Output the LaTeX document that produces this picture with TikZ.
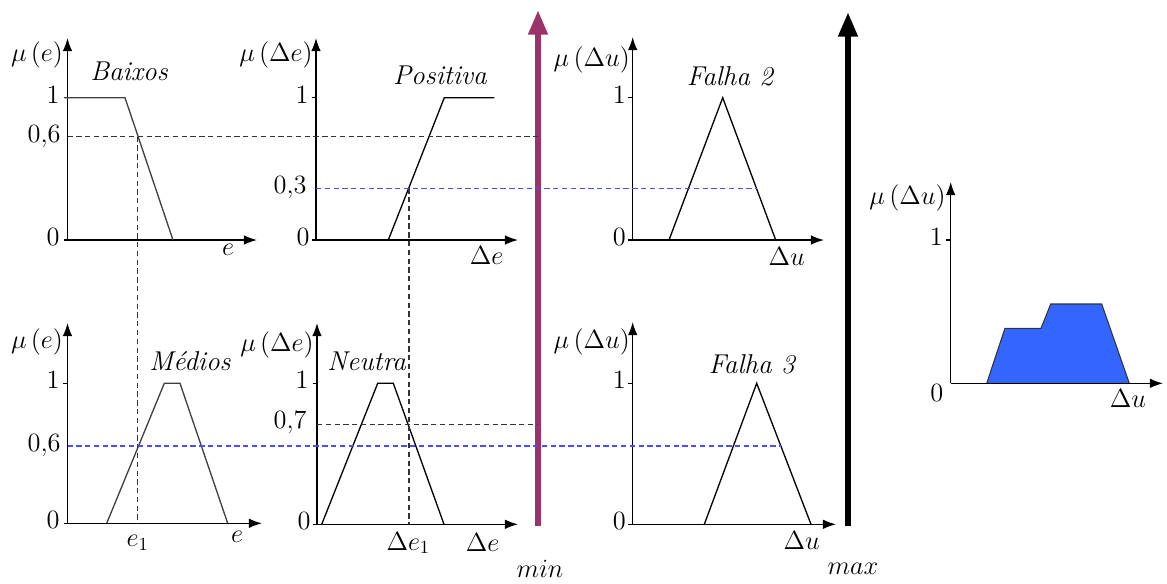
\RequirePackage{fix-cm}
\documentclass[tikz,border=0pt]{standalone}
\usetikzlibrary{arrows.meta}
\definecolor{minc}{RGB}{155,50,105}
\definecolor{fillc}{RGB}{51,102,255}
\begin{document}
\begin{tikzpicture}[x=0.02cm,y=-0.02cm,
  axis/.style={line width=0.75pt,-{Latex[length=7.5pt,width=5.5pt]}},
  tick/.style={line width=0.6pt},
  mf/.style={line width=0.75pt,black!75},
  guide/.style={line width=0.6pt,dash pattern=on 3pt off 2pt,black!80},
  bguide/.style={line width=0.6pt,dash pattern=on 3pt off 2pt,blue!70},
  lab/.style={font=\fontsize{15}{17}\selectfont,inner sep=0pt},
  num/.style={lab,anchor=base east},
  mfname/.style={font=\fontsize{15.5}{18}\selectfont\itshape,inner sep=0pt},
  bigarrow/.style={line width=3.4pt,-{Triangle[length=14pt,width=10.5pt]}},
  ]
\useasboundingbox (0,0) rectangle (1167,583);

% ---------- Panel 1 top: Baixos ----------
\coordinate (a1o) at (67.5,240);
\coordinate (a1x) at (257,240);
\coordinate (a1y) at (67.5,38);
\draw[axis] (64,240) -- (a1x);
\draw[axis] (a1o) -- (a1y);
\node[lab] (a1mu) at (37,55) {$\mu\,(e)$};
\node[num] (a1n1) at (60,103) {$1$};
\node[num] (a1n6) at (61,142) {$0{,}6$};
\node[num] (a1n0) at (60,245) {$0$};
\node[lab] (a1e) at (228,250) {$e$};
\node[mfname] (baixos) at (129,71) {Baixos};
\draw[mf] (64,97.7) -- (125,97.7) -- (173,240);
\coordinate (b06) at (137.7,136.7);
\coordinate (b06l) at (67.5,136.7);

% ---------- Panel 1 bottom: Medios ----------
\coordinate (a2o) at (67.5,523.3);
\coordinate (a2x) at (262,523.3);
\coordinate (a2y) at (67.5,323);
\draw[axis] (64,523.3) -- (a2x);
\draw[axis] (a2o) -- (a2y);
\draw[tick] (63,383.3) -- (67.5,383.3);
\node[lab] (a2mu) at (37,341.7) {$\mu\,(e)$};
\node[num] (a2n1) at (60,388.5) {$1$};
\node[num] (a2n6) at (61,451.3) {$0{,}6$};
\node[num] (a2n0) at (60,528.5) {$0$};
\node[lab] (a2e) at (237,536.7) {$e$};
\node[lab] (a2e1) at (137.7,543) {$e_1$};
\node[mfname] (medios) at (190,361) {Médios};
\draw[mf] (106.7,523.3) -- (164.3,383.3) -- (180,383.3) -- (227.7,523.3);
\coordinate (m06l) at (67.5,446);
\coordinate (e1) at (137.7,523.3);

% ---------- Panel 2 top: Positiva ----------
\coordinate (b1o) at (316,240);
\coordinate (b1x) at (518,240);
\coordinate (b1y) at (316,38);
\draw[axis] (312,240) -- (b1x);
\draw[axis] (b1o) -- (b1y);
\draw[tick] (311.5,97.7) -- (316,97.7);
\node[lab] (b1mu) at (276,55) {$\mu\,(\Delta e)$};
\node[num] (b1n1) at (309,103) {$1$};
\node[num] (b1n3) at (307,193.5) {$0{,}3$};
\node[num] (b1n0) at (310,245) {$0$};
\node[lab] (b1de) at (486.7,255) {$\Delta e$};
\node[mfname] (positiva) at (440,75) {Positiva};
\draw[mf,black] (388.3,240) -- (444.3,97.7) -- (494.3,97.7);
\coordinate (p03) at (409,188.3);
\coordinate (p03l) at (316,188.3);

% ---------- Panel 2 bottom: Neutra ----------
\coordinate (b2o) at (317,524.3);
\coordinate (b2x) at (518,524.3);
\coordinate (b2y) at (317,323);
\draw[axis] (313,524.3) -- (b2x);
\draw[axis] (b2o) -- (b2y);
\draw[tick] (312.5,383.3) -- (317,383.3);
\node[lab] (b2mu) at (277,345) {$\mu\,(\Delta e)$};
\node[num] (b2n1) at (309,388.5) {$1$};
\node[num] (b2n7) at (307,428) {$0{,}7$};
\node[num] (b2n0) at (311,529.5) {$0$};
\node[lab] (b2de1) at (408.3,543) {$\Delta e_1$};
\node[lab] (b2de) at (482.7,542) {$\Delta e$};
\node[mfname] (neutra) at (366.7,361) {Neutra};
\draw[mf,black] (321.7,524.3) -- (377.7,383.3) -- (393.3,383.3) -- (444,524.3);
\coordinate (n07) at (408.2,424.7);
\coordinate (n07l) at (317,424.7);
\coordinate (de1) at (409,524.3);

% ---------- Panel 3 top: Falha 2 ----------
\coordinate (c1o) at (632.7,240);
\coordinate (c1x) at (824,240);
\coordinate (c1y) at (632.7,37);
\draw[axis] (628,240) -- (c1x);
\draw[axis] (c1o) -- (c1y);
\draw[tick] (628,97.7) -- (632.7,97.7);
\node[lab] (c1mu) at (591.7,60) {$\mu\,(\Delta u)$};
\node[num] (c1n1) at (626,103) {$1$};
\node[num] (c1n0) at (626,245) {$0$};
\node[lab] (c1du) at (786.7,256.7) {$\Delta u$};
\node[mfname] (falha2) at (730,76.7) {Falha 2};
\draw[mf,black] (669,240) -- (722.7,97.7) -- (775.7,240);
\coordinate (f2cut) at (756.5,188.3);

% ---------- Panel 3 bottom: Falha 3 ----------
\coordinate (c2o) at (632.7,524.3);
\coordinate (c2x) at (836,524.3);
\coordinate (c2y) at (632.7,322);
\draw[axis] (628,524.3) -- (c2x);
\draw[axis] (c2o) -- (c2y);
\draw[tick] (628,383.3) -- (632.7,383.3);
\node[lab] (c2mu) at (591.7,341.7) {$\mu\,(\Delta u)$};
\node[num] (c2n1) at (626,388.5) {$1$};
\node[num] (c2n0) at (626,529.5) {$0$};
\node[lab] (c2du) at (801.7,540) {$\Delta u$};
\node[mfname] (falha3) at (751.7,364) {Falha 3};
\draw[mf,black] (704.3,524.3) -- (756.7,383.3) -- (811,524.3);
\coordinate (f3cut) at (781,446);

% ---------- min / max arrows ----------
\coordinate (minb) at (538,526);
\coordinate (mint) at (538,10);
\coordinate (maxb) at (848,526);
\coordinate (maxt) at (848,12);
\draw[bigarrow,minc] (minb) -- (mint);
\draw[bigarrow,black] (maxb) -- (maxt);
\node[lab] (minl) at (540,569) {$min$};
\node[lab] (maxl) at (853,569) {$max$};
\coordinate (min06) at (538,136.7);
\coordinate (min07) at (538,424.7);

% ---------- guide lines ----------
\draw[guide] (b06l) -- (min06);
\draw[guide] (b06) -- (e1);
\draw[guide] (n07l) -- (min07);
\draw[guide] (p03) -- (de1);
\draw[bguide] (p03l) -- (f2cut);
\draw[bguide] (m06l) -- (f3cut);

% ---------- Panel 4: aggregated output ----------
\coordinate (d0) at (950.7,383.3);
\coordinate (dx) at (1163,383.3);
\coordinate (dy) at (950.7,182);
\filldraw[fill=fillc,draw=black!80,line width=0.6pt]
  (986.7,383.3) -- (1005,328.3) -- (1041,328.3) -- (1050.7,304)
  -- (1101.7,304) -- (1129.3,383.3) -- cycle;
\draw[axis] (d0) -- (dx);
\draw[axis] (d0) -- (dy);
\draw[tick] (946,240) -- (950.7,240);
\node[lab,anchor=east] (dmu) at (946,198) {$\mu\,(\Delta u)$};
\node[num] (dn1) at (943,245) {$1$};
\node[lab] (dn0) at (936.7,393) {$0$};
\node[lab] (ddu) at (1128,398) {$\Delta u$};
\end{tikzpicture}
\end{document}
